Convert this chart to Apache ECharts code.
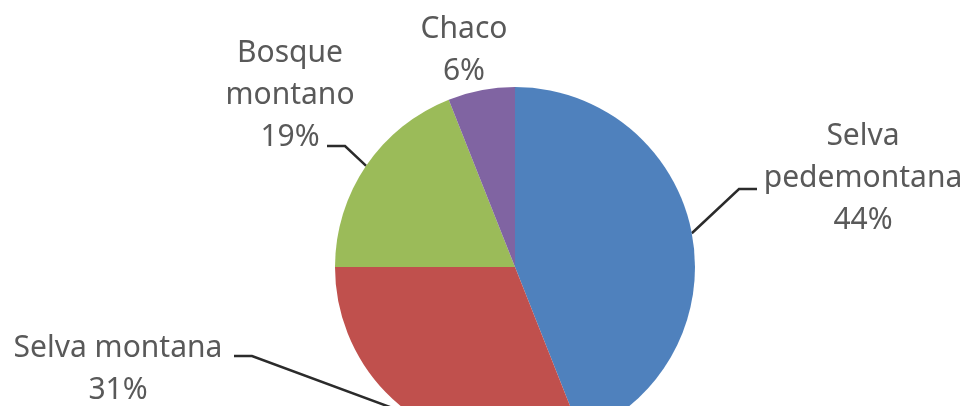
<!DOCTYPE html>
<html lang="es">
<head>
<meta charset="UTF-8">
<title>Distribución por ecorregión</title>
<style>
  html, body { margin: 0; padding: 0; background: #fff; overflow: hidden; }
  #container { width: 968px; height: 406px; }
</style>
</head>
<body>
<div id="container"></div>
<script src="https://cdn.jsdelivr.net/npm/echarts@6/dist/echarts.min.js"></script>
<script>
// datos
var categorias = ['Selva\npedemontana', 'Selva montana', 'Bosque\nmontano', 'Chaco'];
var porcentajes = [44, 31, 19, 6];
var colores = ['#4F81BD', '#C0504D', '#9BBB59', '#8064A2'];

// donde va cada etiqueta (centro del texto) y donde termina su linea guia
var etiquetas = [
  { x: 863, y: 178, fin: [757, 189] },
  { x: 118, y: 369, fin: [234, 356] },
  { x: 290, y: 95,  fin: [327, 146] },
  { x: 464, y: 50,  fin: null }
];

var chart = echarts.init(document.getElementById('container'));

var estiloLinea = { color: '#2b2b2b', width: 2.5 };

var datos = [];
for (var i = 0; i < categorias.length; i++) {
  datos.push({
    name: categorias[i],
    value: porcentajes[i],
    itemStyle: { color: colores[i] },
    labelLine: { show: etiquetas[i].fin !== null, lineStyle: estiloLinea }
  });
}

chart.setOption({
  animation: false,
  backgroundColor: '#fff',
  series: [{
    type: 'pie',
    center: [515, 267],
    radius: 180,
    startAngle: 90,
    clockwise: true,
    data: datos,
    itemStyle: { borderWidth: 0 },
    emphasis: { disabled: true },
    label: {
      show: true,
      position: 'outside',
      formatter: '{b}\n{d}%',
      fontFamily: 'Noto Sans',
      fontSize: 30,
      lineHeight: 42,
      color: '#595959',
      align: 'center'
    },
    labelLine: {
      show: true,
      length: 20,
      length2: 20,
      lineStyle: estiloLinea
    },
    labelLayout: function (params) {
      var e = etiquetas[params.dataIndex];
      var out = { x: e.x, y: e.y, align: 'center', verticalAlign: 'middle' };
      if (e.fin && params.labelLinePoints) {
        var ini = params.labelLinePoints[0];
        var dir = ini[0] > e.fin[0] ? 1 : -1;
        out.labelLinePoints = [ini, [e.fin[0] + dir * 18, e.fin[1]], e.fin];
      }
      return out;
    }
  }]
});
</script>
</body>
</html>
